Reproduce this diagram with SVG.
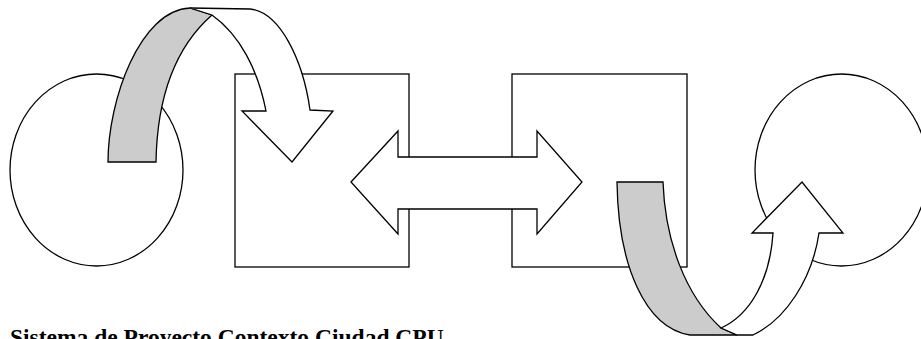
<svg xmlns="http://www.w3.org/2000/svg" width="921" height="339" viewBox="0 0 921 339">
  <style>
    .shape { fill: #ffffff; stroke: #000000; stroke-width: 1.3; stroke-linejoin: miter; }
    .back { fill: #cccccc; stroke: #000000; stroke-width: 1.3; }
    .caption { font-family: "Liberation Serif", "Times New Roman", serif; font-weight: bold; font-size: 23.5px; fill: #000000; }
  </style>
  <rect width="921" height="339" fill="#ffffff"/>

  <!-- external entities -->
  <g id="entity-left">
    <ellipse class="shape" cx="96.5" cy="170" rx="86.5" ry="96"/>
  </g>
  <g id="entity-right">
    <ellipse class="shape" cx="841.5" cy="170" rx="86.5" ry="96"/>
  </g>

  <!-- processing blocks -->
  <g id="block-left">
    <rect class="shape" x="235" y="74" width="174" height="193"/>
  </g>
  <g id="block-right">
    <rect class="shape" x="512" y="74" width="175" height="193"/>
  </g>

  <!-- flows between the entities and blocks -->
  <g id="connectors">
    <!-- two-way exchange between blocks -->
    <path class="shape" d="M351,182 L398,131 L398,157 L537,157 L537,131 L582,182 L537,234 L537,209 L398,209 L398,234 Z"/>

    <!-- curved input arrow: back face of ribbon -->
    <path class="back" d="M108,162 C108,100 140,10 190,8 L212,15 C172,50 157,105 156,162 Z"/>
    <!-- curved input arrow: front face with head -->
    <path class="shape" d="M190,8 L250,9 C280,12 303,60 310,110 L333,111 L292,162 L242,111 L266,111 C258,70 240,35 212,15 Z"/>

    <!-- curved output arrow: back face of ribbon -->
    <path class="back" d="M617,182 L663,182 C665,240 685,295 721,328 L737,335 L690,335 C645,328 618,265 617,182 Z"/>
    <!-- curved output arrow: front face with head -->
    <path class="shape" d="M721,328 L737,335 L753,335 C785,320 812,280 819,233 L843,233 L802,182 L752,233 L773,233 C770,280 750,315 721,328 Z"/>
  </g>

  <text class="caption" x="10" y="345">Sistema de Proyecto Contexto Ciudad CPU</text>
</svg>
